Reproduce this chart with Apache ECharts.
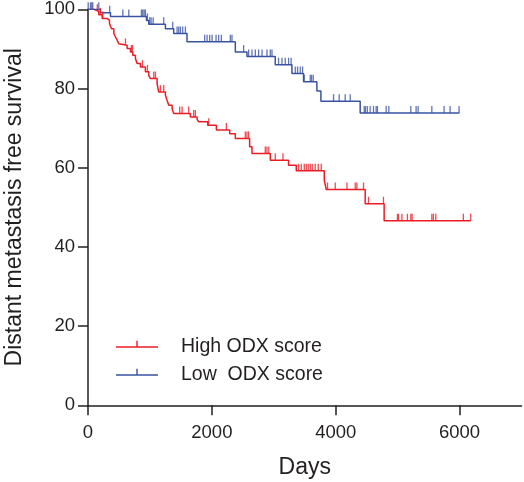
<!DOCTYPE html>
<html>
<head>
<meta charset="utf-8">
<script src="https://cdn.jsdelivr.net/npm/echarts@6/dist/echarts.min.js"></script>
<style>
html,body{margin:0;padding:0;background:#fff;}
#chart{width:524px;height:482px;}
</style>
</head>
<body>
<div id="chart"></div>
<script>
// ---- Data ----
const seriesNames = ['High ODX score', 'Low  ODX score'];
const xTicks = [0, 2000, 4000, 6000];
const yTicks = [0, 20, 40, 60, 80, 100];

// High ODX score: event times (days) and survival (%) after each step
const highTimes = [0, 94, 174, 229, 309, 347, 379, 417, 444, 471, 497, 524, 632, 686, 723, 766, 793, 847, 927, 981, 1008, 1116, 1142, 1250, 1277, 1304, 1358, 1384, 1653, 1761, 1787, 1933, 2073, 2288, 2379, 2610, 2648, 2944, 3239, 3363, 3815, 3847, 4476, 4782];
const highSurv  = [100, 99.5, 98.6, 97.7, 97.2, 96.4, 95.1, 93.9, 93.0, 92.2, 91.3, 90.9, 90.1, 89.2, 88.4, 87.6, 86.3, 85.4, 84.2, 83.3, 82.5, 81.2, 79.1, 78.3, 77.0, 75.8, 74.9, 73.7, 72.8, 72.2, 71.6, 70.7, 69.5, 68.6, 67.4, 65.3, 63.6, 61.9, 60.6, 59.2, 56.9, 54.5, 50.9, 46.6];
const highEnd = 6180;
const highCensor = [60, 150, 200, 239, 605, 700, 720, 880, 960, 1062, 1089, 1169, 1223, 1481, 1519, 1626, 1707, 1734, 1949, 2234, 2540, 2567, 2594, 2863, 2890, 2920, 3024, 3148, 3400, 3444, 3492, 3524, 3556, 3589, 3621, 3669, 3718, 3766, 3868, 3992, 4181, 4315, 4342, 4449, 4529, 4771, 4997, 5013, 5068, 5158, 5213, 5234, 5552, 5577, 5616, 6061, 6180];

// Low ODX score
const lowTimes = [0, 201, 363, 944, 981, 1250, 1384, 1599, 2379, 2567, 3024, 3293, 3481, 3696, 3761, 4395];
const lowSurv  = [100, 99.1, 98.2, 97.2, 96.2, 95.1, 93.9, 91.8, 89.2, 88.1, 86.0, 83.8, 81.7, 79.4, 76.8, 73.8];
const lowEnd = 5997;
const lowCensor = [3, 40, 77, 174, 350, 562, 659, 863, 884, 906, 927, 960, 997, 1019, 1052, 1223, 1368, 1438, 1465, 1492, 1529, 1573, 1884, 1923, 1965, 2003, 2068, 2110, 2153, 2298, 2325, 2513, 2594, 2648, 2702, 2755, 2810, 2890, 2944, 2971, 3077, 3132, 3185, 3239, 3280, 3347, 3384, 3427, 3465, 3492, 3589, 3610, 3637, 3965, 4056, 4153, 4234, 4460, 4480, 4510, 4556, 4610, 4653, 4674, 4815, 4858, 5213, 5298, 5331, 5552, 5750, 5847, 5992];

// ---- Build ----
const RED = '#ed1c24';
const BLUE = '#3953a4';
const TXT = '#231f20';
const FONT = '"Liberation Sans", Arial, Helvetica, sans-serif';

function stepLine(times, surv, end) {
  const d = times.map((t, i) => [t, surv[i]]);
  d.push([end, surv[surv.length - 1]]);
  return d;
}
function survAt(times, surv, t) {
  let v = surv[0];
  for (let i = 0; i < times.length; i++) { if (times[i] <= t) v = surv[i]; }
  return v;
}
function censorPts(times, surv, cens) {
  return cens.map(t => [t, survAt(times, surv, t)]);
}

const legendIcon = 'path://M0,5.5 L42,5.5 L42,7 L0,7 Z M20.3,0 L21.7,0 L21.7,6 L20.3,6 Z M59.97,12.47 L60,12.5 L59.97,12.5 Z';

const chart = echarts.init(document.getElementById('chart'), null, {renderer: 'canvas'});
chart.setOption({
  animation: false,
  backgroundColor: '#fff',
  textStyle: {fontFamily: FONT, color: TXT},
  grid: {left: 88, right: 2.5, top: 9.3, bottom: 76.7, containLabel: false, outerBoundsMode: 'none'},
  legend: {
    orient: 'vertical',
    left: 116,
    top: 337,
    padding: 0,
    itemGap: 8,
    itemWidth: 60,
    itemHeight: 12.5,
    textStyle: {fontSize: 19.5, color: TXT, fontFamily: FONT},
    data: [
      {name: seriesNames[0], icon: legendIcon, itemStyle: {color: RED}},
      {name: seriesNames[1], icon: legendIcon, itemStyle: {color: BLUE}}
    ]
  },
  xAxis: {
    type: 'value',
    min: 0,
    max: 7000,
    interval: 2000,
    name: 'Days',
    nameLocation: 'middle',
    nameGap: 51,
    nameTextStyle: {fontSize: 23, color: TXT, fontFamily: FONT},
    axisLine: {show: true, lineStyle: {color: TXT, width: 1.5}},
    axisTick: {show: true, length: 10, customValues: xTicks, lineStyle: {color: TXT, width: 1.5}},
    axisLabel: {customValues: xTicks, margin: 18, fontSize: 18.5, color: TXT, fontFamily: FONT,
      formatter: v => String(v)},
    splitLine: {show: false}
  },
  yAxis: {
    type: 'value',
    min: 0,
    max: 100,
    interval: 20,
    name: 'Distant metastasis free survival',
    nameLocation: 'middle',
    nameGap: 62,
    nameTextStyle: {fontSize: 23, color: TXT, fontFamily: FONT},
    axisLine: {show: true, lineStyle: {color: TXT, width: 1.5}},
    axisTick: {show: true, length: 10, customValues: yTicks, lineStyle: {color: TXT, width: 1.5}},
    axisLabel: {customValues: yTicks, margin: 13, fontSize: 18.5, color: TXT, fontFamily: FONT,
      formatter: v => String(v)},
    splitLine: {show: false}
  },
  series: [
    {
      name: seriesNames[0], type: 'line', step: 'end', showSymbol: false, symbol: 'none',
      data: stepLine(highTimes, highSurv, highEnd),
      lineStyle: {color: RED, width: 1.5}, itemStyle: {color: RED}, z: 3
    },
    {
      name: seriesNames[1], type: 'line', step: 'end', showSymbol: false, symbol: 'none',
      data: stepLine(lowTimes, lowSurv, lowEnd),
      lineStyle: {color: BLUE, width: 1.5}, itemStyle: {color: BLUE}, z: 3
    },
    {
      name: 'high-censor', type: 'scatter', silent: true,
      symbol: 'rect', symbolSize: [1.3, 7], symbolOffset: [0, -3.5],
      data: censorPts(highTimes, highSurv, highCensor),
      itemStyle: {color: RED}, z: 4
    },
    {
      name: 'low-censor', type: 'scatter', silent: true,
      symbol: 'rect', symbolSize: [1.3, 7], symbolOffset: [0, -3.5],
      data: censorPts(lowTimes, lowSurv, lowCensor),
      itemStyle: {color: BLUE}, z: 4
    }
  ]
});
</script>
</body>
</html>
